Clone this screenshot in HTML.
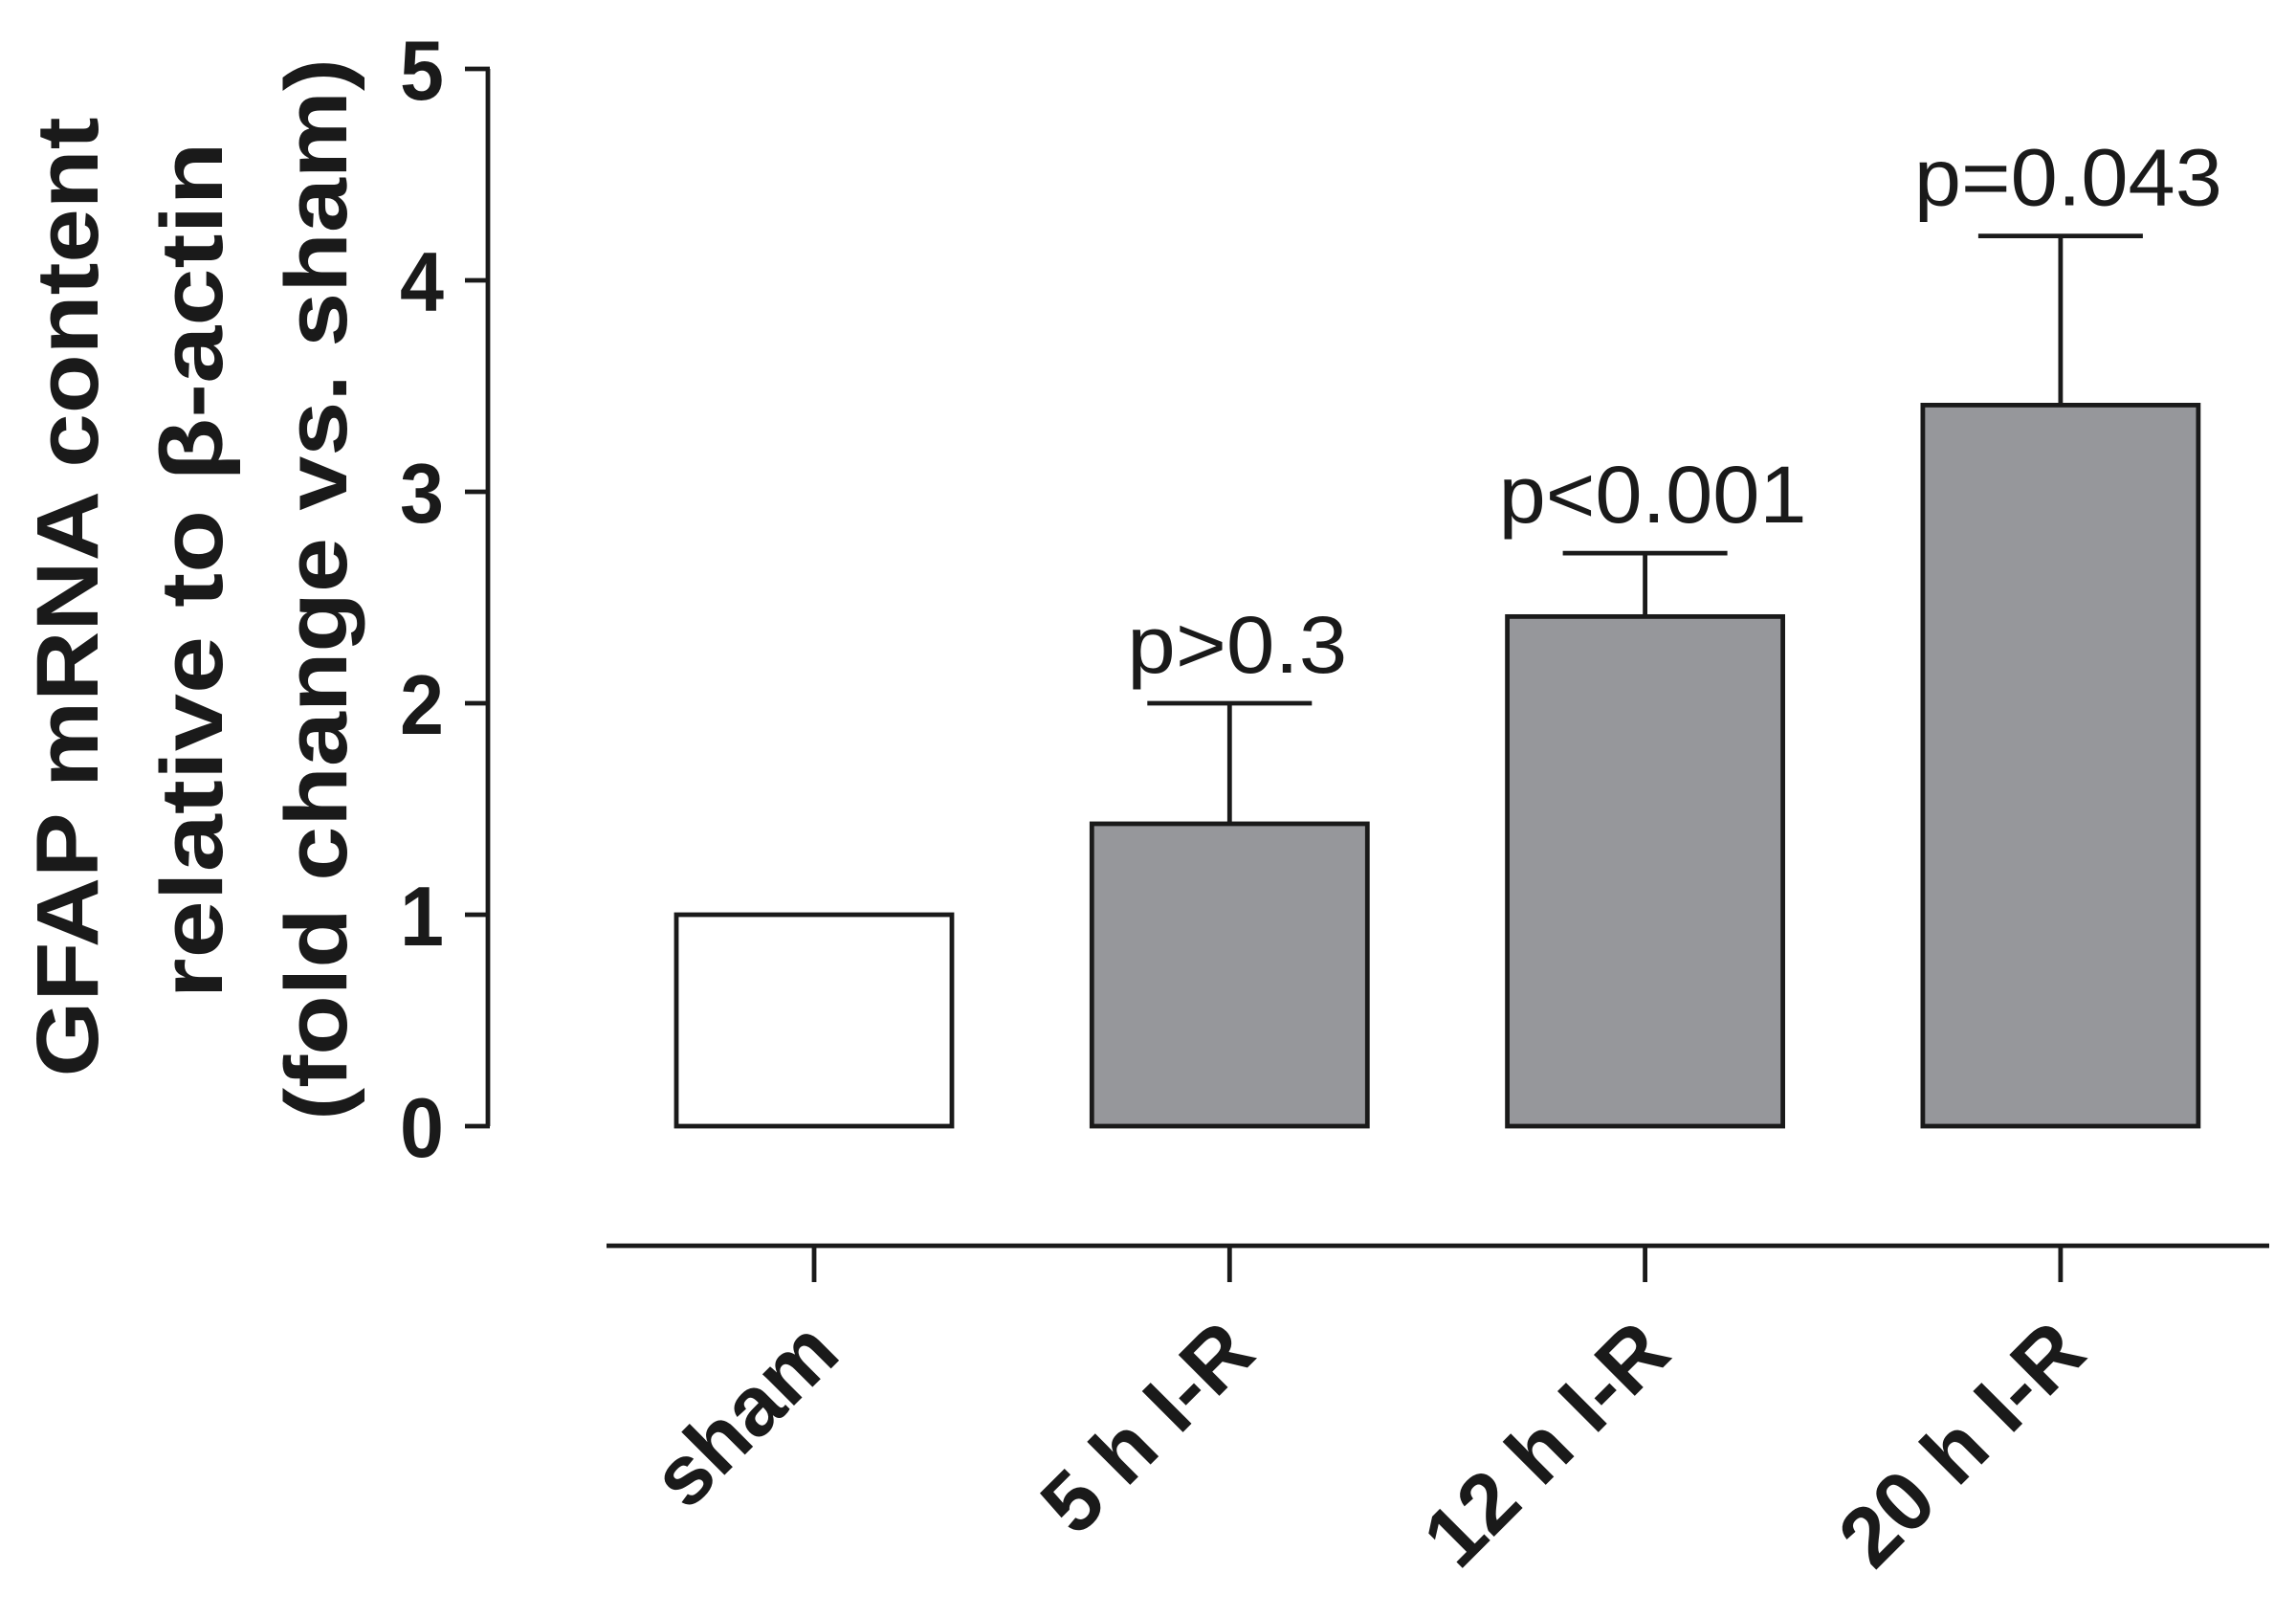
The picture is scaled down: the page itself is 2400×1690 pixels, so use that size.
<!DOCTYPE html>
<html><head><meta charset="utf-8"><style>html,body{margin:0;padding:0;background:#fff}svg{display:block}</style></head>
<body>
<svg id="chart" width="2400" height="1690" viewBox="0 0 2400 1690" xmlns="http://www.w3.org/2000/svg" font-family="'Liberation Sans', Arial, sans-serif">
<g id="yTitle" font-weight="bold" font-size="92" text-anchor="middle" fill="#1a1a1a">
<text transform="translate(102,624) rotate(-90)" textLength="1003" lengthAdjust="spacingAndGlyphs">GFAP mRNA content</text>
<text transform="translate(232,596) rotate(-90)" textLength="895" lengthAdjust="spacingAndGlyphs">relative to β-actin</text>
<text transform="translate(362,616) rotate(-90)" textLength="1110" lengthAdjust="spacingAndGlyphs">(fold change vs. sham)</text>
</g>
<g id="plot"></g>
</svg>
<script>
const categories = ["sham", "5 h I-R", "12 h I-R", "20 h I-R"];
const values = [1.0, 1.43, 2.41, 3.41];
const errors = [0, 0.57, 0.30, 0.80];
const pLabels = ["", "p>0.3", "p<0.001", "p=0.043"];
const yTicks = [0, 1, 2, 3, 4, 5];

const NS = "http://www.w3.org/2000/svg";
const g = document.getElementById("plot");
const y0 = 1177, yTop = 72, yMax = 5;
const yScale = v => y0 - (y0 - yTop) * v / yMax;
const xCenter = i => 851 + i * 434.3;
const barW = 288, capW = 172, sw = 4.8;
function mk(tag, attrs) { const e = document.createElementNS(NS, tag); for (const k in attrs) e.setAttribute(k, attrs[k]); g.appendChild(e); return e; }

let ax = mk("line", {x1: 510, x2: 510, y1: yScale(yMax), y2: y0, stroke: "#1a1a1a", "stroke-width": sw});


yTicks.forEach(t => {
  const yy = yScale(t);
  const tk = mk("line", {x1: 486, x2: 512, y1: yy, y2: yy, stroke: "#1a1a1a", "stroke-width": sw});
  
  
  const tl = mk("text", {x: 464, y: yy + 32, "text-anchor": "end", "font-size": 88, "font-weight": "bold", fill: "#1a1a1a", textLength: 46, lengthAdjust: "spacingAndGlyphs"});
  tl.textContent = t;
  
  
});

let xa = mk("line", {x1: 634, x2: 2372, y1: 1302, y2: 1302, stroke: "#1a1a1a", "stroke-width": sw});



categories.forEach((c, i) => {
  const cx = xCenter(i);
  const v = values[i];
  if (errors[i] > 0) {
    const top = yScale(v + errors[i]);
    const el = mk("line", {x1: cx, x2: cx, y1: yScale(v), y2: top, stroke: "#1a1a1a", "stroke-width": sw});
    
    
    const cap = mk("line", {x1: cx - capW / 2, x2: cx + capW / 2, y1: top, y2: top, stroke: "#1a1a1a", "stroke-width": sw});
    
    
    const pl = mk("text", {x: cx + 8, y: top - 32, "text-anchor": "middle", "font-size": 84, fill: "#1a1a1a", textLength: pLabels[i].length * 46, lengthAdjust: "spacingAndGlyphs"});
    pl.textContent = pLabels[i];
    
    
  }
  const r = mk("rect", {x: cx - barW / 2, y: yScale(v), width: barW, height: y0 - yScale(v), fill: i === 0 ? "#ffffff" : "#96979b", stroke: "#1a1a1a", "stroke-width": sw});
  
  
  const xt = mk("line", {x1: cx, x2: cx, y1: 1302, y2: 1340, stroke: "#1a1a1a", "stroke-width": sw});
  
  
  const xl = mk("text", {transform: `translate(${cx + 30},1418) rotate(-45)`, "text-anchor": "end", "font-size": 88, "font-weight": "bold", fill: "#1a1a1a"});
  xl.textContent = c;
  
  
});
</script>
</body></html>
